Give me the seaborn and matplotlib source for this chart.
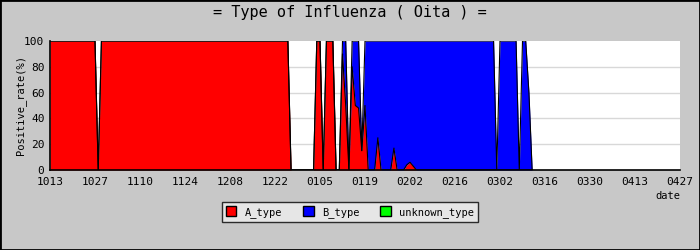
import numpy as np
import pandas as pd
import matplotlib
matplotlib.use("Agg")
import matplotlib.pyplot as plt
from matplotlib.patches import Rectangle, Patch
import seaborn as sns

# ---- data (daily, day 0 = 10/13) ----
a_type = [
    100, 100, 100, 100, 100, 100, 100, 100, 100, 100,
    100, 100, 100, 100, 100, 0, 100, 100, 100, 100,
    100, 100, 100, 100, 100, 100, 100, 100, 100, 100,
    100, 100, 100, 100, 100, 100, 100, 100, 100, 100,
    100, 100, 100, 100, 100, 100, 100, 100, 100, 100,
    100, 100, 100, 100, 100, 100, 100, 100, 100, 100,
    100, 100, 100, 100, 100, 100, 100, 100, 100, 100,
    100, 100, 100, 100, 100, 0, 0, 0, 0, 0,
    0, 0, 0, 100, 100, 0, 100, 100, 100, 0,
    0, 90, 50, 0, 80, 50, 48, 15, 50, 0,
    0, 0, 25, 0, 0, 0, 0, 17, 0, 0,
    0, 4, 6, 3, 0, 0, 0, 0, 0, 0,
    0, 0, 0, 0, 0, 0, 0, 0, 0, 0,
    0, 0, 0, 0, 0, 0, 0, 0, 0, 0,
    0, 0, 0, 0, 0, 0, 0, 0, 0, 0,
    0,
]
b_type = [
    0, 0, 0, 0, 0, 0, 0, 0, 0, 0,
    0, 0, 0, 0, 0, 0, 0, 0, 0, 0,
    0, 0, 0, 0, 0, 0, 0, 0, 0, 0,
    0, 0, 0, 0, 0, 0, 0, 0, 0, 0,
    0, 0, 0, 0, 0, 0, 0, 0, 0, 0,
    0, 0, 0, 0, 0, 0, 0, 0, 0, 0,
    0, 0, 0, 0, 0, 0, 0, 0, 0, 0,
    0, 0, 0, 0, 0, 0, 0, 0, 0, 0,
    0, 0, 0, 0, 0, 0, 0, 0, 0, 0,
    0, 10, 50, 0, 20, 50, 52, 0, 50, 100,
    100, 100, 75, 100, 100, 100, 100, 83, 100, 100,
    100, 96, 94, 97, 100, 100, 100, 100, 100, 100,
    100, 100, 100, 100, 100, 100, 100, 100, 100, 100,
    100, 100, 100, 100, 100, 100, 100, 100, 100, 0,
    100, 100, 100, 100, 100, 100, 0, 100, 100, 60,
    0,
]
unknown_type = [0] * len(a_type)

tick_labels = ["1013", "1027", "1110", "1124", "1208", "1222", "0105", "0119",
               "0202", "0216", "0302", "0316", "0330", "0413", "0427"]
series_names = ["A_type", "B_type", "unknown_type"]
series_colors = ["#ff0000", "#0000ff", "#00ff00"]

# ---- build frame ----
days = np.arange(len(a_type))
df = pd.DataFrame({"day": days, "A": a_type, "B": b_type, "U": unknown_type})
df["cA"] = df["A"]
df["cB"] = df["A"] + df["B"]
df["cU"] = df["cB"] + df["U"]

sns.set_style("white")
plt.rcParams["font.family"] = ["DejaVu Sans Mono", "DejaVu Sans"]
plt.rcParams["text.color"] = "black"
plt.rcParams["axes.labelcolor"] = "black"
plt.rcParams["xtick.color"] = "black"
plt.rcParams["ytick.color"] = "black"

bg = "#c8c8c8"
fig = plt.figure(figsize=(7, 2.5), dpi=100, facecolor=bg)
ax = fig.add_axes([50 / 700, 1 - 170 / 250, 630 / 700, 129 / 250])
ax.set_facecolor("white")

# grid
for g in [20, 40, 60, 80]:
    ax.axhline(g, color="#d8d8d8", lw=1, zorder=0)

# stacked areas
ax.fill_between(df["day"], 0, df["cA"], color=series_colors[0], lw=0, zorder=1)
ax.fill_between(df["day"], df["cA"], df["cB"], color=series_colors[1], lw=0, zorder=1)
ax.fill_between(df["day"], df["cB"], df["cU"], color=series_colors[2], lw=0, zorder=1)

# outlines via seaborn
for col in ["cA", "cB"]:
    sns.lineplot(data=df, x="day", y=col, color="black", lw=0.8, ax=ax, zorder=2,
                 legend=False)

ax.set_xlim(0, 196)
ax.set_ylim(0, 100)
ax.set_xlabel("")
ax.set_ylabel("")
ax.set_xticks(np.arange(0, 197, 14))
ax.set_xticklabels(tick_labels, fontsize=8)
ax.set_yticks(np.arange(0, 101, 20))
ax.set_yticks(np.arange(10, 100, 20), minor=True)
ax.tick_params(axis="y", which="both", direction="in", length=4, width=1,
               labelsize=8, pad=4, colors="black")
ax.tick_params(axis="x", which="major", direction="in", length=5, width=1,
               labelsize=8, pad=5, colors="black")
for s in ["top", "right"]:
    ax.spines[s].set_visible(False)
for s in ["left", "bottom"]:
    ax.spines[s].set_color("black")
    ax.spines[s].set_linewidth(1.2)

fig.text(0.5, 1 - 13 / 250, "= Type of Influenza ( Oita ) =", ha="center",
         va="center", fontsize=11, color="black")
fig.text(0.029, 1 - 105 / 250, "Positive_rate(%)", rotation=90, ha="center",
         va="center", fontsize=7.5, color="black")
fig.text(668 / 700, 1 - 196 / 250, "date", ha="center", va="center", fontsize=7.5,
         color="black")

handles = [Patch(facecolor=c, edgecolor="black", lw=1) for c in series_colors]
leg = fig.legend(handles, series_names, loc="center", bbox_to_anchor=(0.5, 1 - 212 / 250),
                 ncol=3, frameon=True, fontsize=7.5, handlelength=1.0, handleheight=1.0,
                 columnspacing=2.0, handletextpad=0.8, borderpad=0.4, fancybox=False)
leg.get_frame().set_facecolor("#eeeeee")
leg.get_frame().set_edgecolor("black")
leg.get_frame().set_linewidth(1)
for t in leg.get_texts():
    t.set_color("black")

fig.patches.append(Rectangle((0, 0), 1, 1, transform=fig.transFigure, fill=False,
                             edgecolor="black", lw=2))

fig.savefig("out.png", dpi=100, facecolor=bg)
